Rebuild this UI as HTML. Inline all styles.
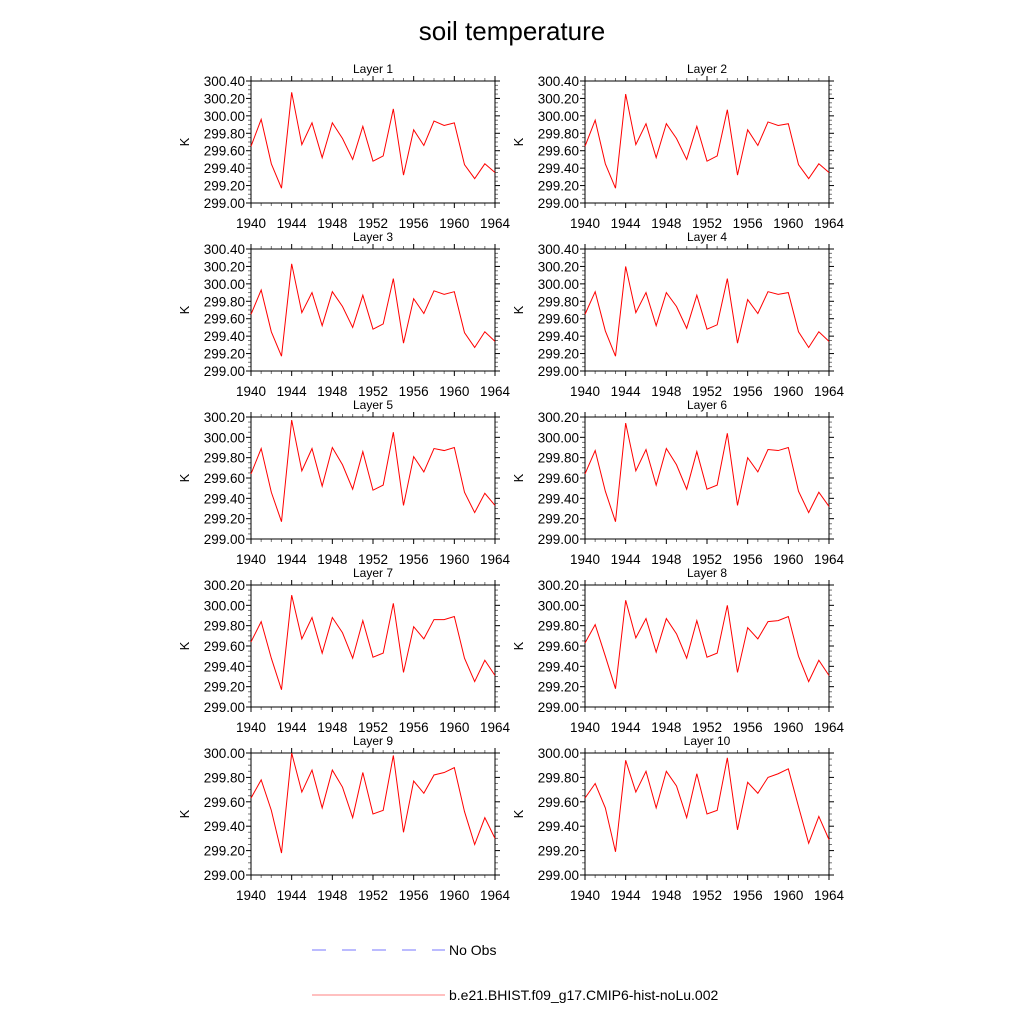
<!DOCTYPE html>
<html><head><meta charset="utf-8">
<style>
html,body{margin:0;padding:0;background:#fff;}
svg text{font-family:"Liberation Sans",Arial,sans-serif;fill:#000;}
</style></head>
<body>
<svg id="chart" width="1024" height="1024" viewBox="0 0 1024 1024" xmlns="http://www.w3.org/2000/svg">
<rect width="1024" height="1024" fill="#fff"/>
<text x="512" y="40" font-size="26" text-anchor="middle">soil temperature</text>
<g>
<line x1="312" y1="950" x2="445" y2="950" stroke="#7777ff" stroke-width="1" stroke-dasharray="14,16"/>
<text x="449" y="955" font-size="14">No Obs</text>
<line x1="312" y1="995" x2="445" y2="995" stroke="#ff8080" stroke-width="1"/>
<text x="449" y="1000" font-size="14">b.e21.BHIST.f09_g17.CMIP6-hist-noLu.002</text>
</g>
<g id="panels"></g>
</svg>
<script>
const years = [1940,1941,1942,1943,1944,1945,1946,1947,1948,1949,1950,1951,1952,1953,1954,1955,1956,1957,1958,1959,1960,1961,1962,1963,1964];
const xTickLabels = ["1940","1944","1948","1952","1956","1960","1964"];
const layerNames = ["Layer 1","Layer 2","Layer 3","Layer 4","Layer 5","Layer 6","Layer 7","Layer 8","Layer 9","Layer 10"];
const yMaxes = [300.4,300.4,300.4,300.4,300.2,300.2,300.2,300.2,300.0,300.0];
const layer1 = [299.65,299.96,299.45,299.17,300.27,299.67,299.92,299.52,299.92,299.74,299.50,299.88,299.48,299.54,300.08,299.32,299.84,299.66,299.94,299.89,299.92,299.44,299.28,299.45,299.35];
const layer2 = [299.65,299.95,299.45,299.17,300.25,299.67,299.91,299.52,299.91,299.74,299.50,299.88,299.48,299.54,300.07,299.32,299.84,299.66,299.93,299.89,299.91,299.44,299.28,299.45,299.35];
const layer3 = [299.65,299.93,299.45,299.17,300.23,299.67,299.90,299.52,299.91,299.74,299.50,299.87,299.48,299.54,300.06,299.32,299.83,299.66,299.92,299.88,299.91,299.44,299.27,299.45,299.34];
const layer4 = [299.65,299.91,299.46,299.17,300.20,299.67,299.90,299.52,299.90,299.74,299.49,299.87,299.48,299.53,300.06,299.32,299.82,299.66,299.91,299.88,299.90,299.45,299.27,299.45,299.34];
const layer5 = [299.64,299.89,299.46,299.17,300.17,299.67,299.89,299.52,299.90,299.73,299.49,299.86,299.48,299.53,300.05,299.33,299.81,299.66,299.89,299.87,299.90,299.46,299.26,299.45,299.33];
const layer6 = [299.64,299.87,299.47,299.17,300.14,299.67,299.88,299.53,299.89,299.73,299.49,299.86,299.49,299.53,300.04,299.33,299.80,299.66,299.88,299.87,299.90,299.47,299.26,299.46,299.32];
const layer7 = [299.64,299.84,299.48,299.17,300.10,299.67,299.88,299.53,299.88,299.73,299.48,299.85,299.49,299.53,300.02,299.34,299.79,299.67,299.86,299.86,299.89,299.48,299.25,299.46,299.31];
const layer8 = [299.63,299.81,299.50,299.18,300.05,299.68,299.87,299.54,299.87,299.72,299.48,299.85,299.49,299.53,300.00,299.34,299.78,299.67,299.84,299.85,299.89,299.50,299.25,299.46,299.31];
const layer9 = [299.63,299.78,299.53,299.18,300.00,299.68,299.86,299.55,299.86,299.72,299.47,299.84,299.50,299.53,299.98,299.35,299.77,299.67,299.82,299.84,299.88,299.52,299.25,299.47,299.30];
const layer10 = [299.63,299.75,299.55,299.19,299.94,299.68,299.85,299.55,299.85,299.73,299.47,299.83,299.50,299.53,299.96,299.37,299.76,299.67,299.80,299.83,299.87,299.56,299.26,299.48,299.29];
const layers = [layer1,layer2,layer3,layer4,layer5,layer6,layer7,layer8,layer9,layer10];

const NS="http://www.w3.org/2000/svg";
const root=document.getElementById('panels');
function mk(tag,attrs,parent){const e=document.createElementNS(NS,tag);for(const k in attrs)e.setAttribute(k,attrs[k]);parent.appendChild(e);return e;}
const W=244,H=122,colX=[251,585],rowY=[81,249,417,585,753],yMin=299.0;

layers.forEach((vals,i)=>{
  const px=colX[i%2],py=rowY[Math.floor(i/2)],yMax=yMaxes[i];
  const xs=v=>px+(v-1940)/(1964-1940)*W;
  const ys=v=>py+H-(v-yMin)/(yMax-yMin)*H;
  const g=mk('g',{},root);
  
  
  const t=mk('text',{x:px+W/2,y:py-8,'font-size':12,'text-anchor':'middle'},g);
  
  
  t.textContent=layerNames[i];
  const yl=mk('text',{x:0,y:0,'font-size':13,'text-anchor':'middle',transform:`translate(${px-62},${py+H/2}) rotate(-90)`},g);
  
  
  yl.textContent='K';
  const ticks=mk('g',{stroke:'#000','stroke-width':1},g);
  
  
  const nMinor=Math.round((yMax-yMin)/0.05);
  for(let k=0;k<=nMinor;k++){
    const v=yMin+k*0.05,y=ys(v),major=k%4===0,len=major?5:3;
    mk('line',{x1:px-len,y1:y,x2:px,y2:y,stroke:major?'#000':'#777'},ticks);
    mk('line',{x1:px+W,y1:y,x2:px+W+len,y2:y,stroke:major?'#000':'#777'},ticks);
    if(major){
      const tl=mk('text',{x:px-6,y:y+5,'font-size':13.5,'text-anchor':'end',stroke:'none'},g);
      
      
      tl.textContent=v.toFixed(2);
    }
  }
  years.forEach(yr=>{
    const x=xs(yr),major=(yr-1940)%4===0,len=major?5:3;
    mk('line',{x1:x,y1:py+H,x2:x,y2:py+H+len,stroke:major?'#000':'#777'},ticks);
    mk('line',{x1:x,y1:py-len,x2:x,y2:py,stroke:major?'#000':'#777'},ticks);
  });
  xTickLabels.forEach(l=>{
    const tl=mk('text',{x:xs(+l),y:py+H+25,'font-size':13.5,'text-anchor':'middle'},g);
    
    
    tl.textContent=l;
  });
  const fr=mk('rect',{x:px,y:py,width:W,height:H,fill:'none',stroke:'#000','stroke-width':1},g);
  
  
  const line=mk('polyline',{points:vals.map((v,j)=>xs(years[j]).toFixed(2)+','+ys(v).toFixed(2)).join(' '),fill:'none',stroke:'#ff0000','stroke-width':1},g);
  
  
});
</script>
</body></html>
